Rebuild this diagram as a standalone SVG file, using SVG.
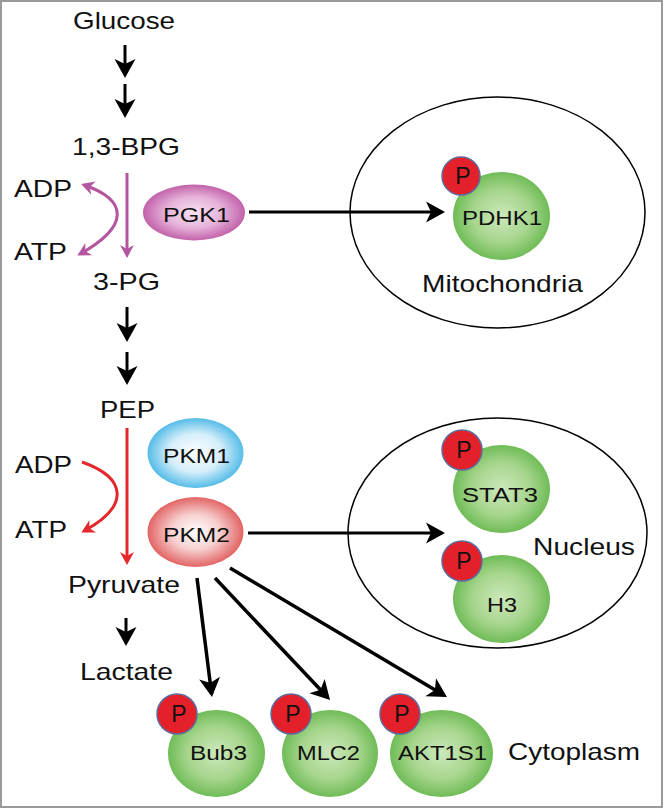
<svg xmlns="http://www.w3.org/2000/svg" width="665" height="811" viewBox="0 0 665 811">
<style>
text{font-family:"Liberation Sans",Arial,sans-serif;fill:#111}
.lb{font-size:24px}
.pr{font-size:20px;text-anchor:middle}
.en{font-size:21px;text-anchor:middle}
.m{text-anchor:middle}
.p{font-size:23px;text-anchor:middle}
.pc{fill:#e4202a;stroke:#5d6b9c;stroke-width:1.5}
.bk{stroke:#000;fill:none}
.comp{fill:none;stroke:#000;stroke-width:1.5}
</style>
<defs>
<radialGradient id="gG" cx="50%" cy="50%" r="50%"><stop offset="0" stop-color="#cde8bb"/><stop offset="0.6" stop-color="#a6d58c"/><stop offset="1" stop-color="#6fbc57"/></radialGradient>
<radialGradient id="gPu" cx="50%" cy="50%" r="50%"><stop offset="0" stop-color="#f6e2f2"/><stop offset="0.55" stop-color="#e6b3da"/><stop offset="1" stop-color="#c262aa"/></radialGradient>
<radialGradient id="gBl" cx="50%" cy="50%" r="50%"><stop offset="0" stop-color="#ffffff"/><stop offset="0.55" stop-color="#d5eefa"/><stop offset="1" stop-color="#55bce8"/></radialGradient>
<radialGradient id="gRd" cx="50%" cy="50%" r="50%"><stop offset="0" stop-color="#ffffff"/><stop offset="0.5" stop-color="#f7d0d0"/><stop offset="1" stop-color="#e26464"/></radialGradient>
<marker id="ab" viewBox="-21 -12 23 24" markerWidth="23" markerHeight="24" refX="-3" refY="0" orient="auto" markerUnits="userSpaceOnUse"><path d="M0,0 L-19,-10.5 L-14,0 L-19,10.5 Z" fill="#000"/></marker>
<marker id="ap" viewBox="-16 -9 18 18" markerWidth="18" markerHeight="18" refX="-3" refY="0" orient="auto-start-reverse" markerUnits="userSpaceOnUse"><path d="M0,0 L-13,-7 L-9,0 L-13,7 Z" fill="#b4559f"/></marker>
<marker id="ar" viewBox="-16 -9 18 18" markerWidth="18" markerHeight="18" refX="-3" refY="0" orient="auto" markerUnits="userSpaceOnUse"><path d="M0,0 L-13,-7 L-9,0 L-13,7 Z" fill="#e3272b"/></marker>
</defs>
<rect x="1" y="1" width="661" height="806" fill="#fff" stroke="#9a9a9a" stroke-width="2"/>

<g id="compartments">
<ellipse cx="497.5" cy="212.5" rx="147.5" ry="115.5" class="comp"/>
<ellipse cx="497.5" cy="533" rx="149.5" ry="115" class="comp"/>
</g>

<g id="connectors">
<path class="bk" stroke-width="3" d="M125,45 L125,75" marker-end="url(#ab)"/>
<path class="bk" stroke-width="3" d="M125,84 L125,115" marker-end="url(#ab)"/>
<path class="bk" stroke-width="3" d="M127,307 L127,339" marker-end="url(#ab)"/>
<path class="bk" stroke-width="3" d="M127,352 L127,382" marker-end="url(#ab)"/>
<path class="bk" stroke-width="3" d="M126,618 L126,643" marker-end="url(#ab)"/>
<path class="bk" stroke-width="3" d="M249,212 L442,212" marker-end="url(#ab)"/>
<path class="bk" stroke-width="3" d="M248,533 L442,533" marker-end="url(#ab)"/>
<path class="bk" stroke-width="3.5" d="M197,578 L211.6,694" marker-end="url(#ab)"/>
<path class="bk" stroke-width="3.5" d="M215,578 L328,697.8" marker-end="url(#ab)"/>
<path class="bk" stroke-width="3.5" d="M230,568 L444.4,695.5" marker-end="url(#ab)"/>
<path d="M127,173 L127,255" stroke="#b4559f" stroke-width="3" fill="none" marker-end="url(#ap)"/>
<path d="M84,185 C128,200 130,226 80,254" stroke="#b4559f" stroke-width="3" fill="none" marker-start="url(#ap)" marker-end="url(#ap)"/>
<path d="M127,428 L127,562" stroke="#e3272b" stroke-width="3" fill="none" marker-end="url(#ar)"/>
<path d="M82,462 C127,478 130,506 84,531" stroke="#e3272b" stroke-width="3" fill="none" marker-end="url(#ar)"/>
</g>

<g id="metabolites">
<text class="lb m" x="124" y="29" textLength="102" lengthAdjust="spacingAndGlyphs">Glucose</text>
<text class="lb m" x="126" y="155" textLength="108" lengthAdjust="spacingAndGlyphs">1,3-BPG</text>
<text class="lb" x="14" y="197" textLength="58" lengthAdjust="spacingAndGlyphs">ADP</text>
<text class="lb" x="14" y="260" textLength="53" lengthAdjust="spacingAndGlyphs">ATP</text>
<text class="lb m" x="126.5" y="290" textLength="67" lengthAdjust="spacingAndGlyphs">3-PG</text>
<text class="lb m" x="127.5" y="418" textLength="55" lengthAdjust="spacingAndGlyphs">PEP</text>
<text class="lb" x="15" y="473" textLength="57" lengthAdjust="spacingAndGlyphs">ADP</text>
<text class="lb" x="15" y="538" textLength="52" lengthAdjust="spacingAndGlyphs">ATP</text>
<text class="lb m" x="124" y="593" textLength="112" lengthAdjust="spacingAndGlyphs">Pyruvate</text>
<text class="lb m" x="126.5" y="680" textLength="93" lengthAdjust="spacingAndGlyphs">Lactate</text>
</g>

<g id="PGK1">
<ellipse cx="194" cy="212.5" rx="51" ry="28" fill="url(#gPu)"/>
<text class="en" x="196.5" y="222" textLength="67" lengthAdjust="spacingAndGlyphs">PGK1</text>
</g>
<g id="PKM1">
<ellipse cx="195.5" cy="453" rx="48" ry="35" fill="url(#gBl)"/>
<text class="en" x="196.5" y="463" textLength="67" lengthAdjust="spacingAndGlyphs">PKM1</text>
</g>
<g id="PKM2">
<ellipse cx="195.5" cy="532" rx="48" ry="35" fill="url(#gRd)"/>
<text class="en" x="196.5" y="542" textLength="67" lengthAdjust="spacingAndGlyphs">PKM2</text>
</g>

<g id="PDHK1">
<ellipse cx="501.5" cy="216" rx="48.5" ry="44" fill="url(#gG)"/>
<text class="pr" x="502" y="225" textLength="80" lengthAdjust="spacingAndGlyphs">PDHK1</text>
<circle cx="461" cy="176" r="19" class="pc"/>
<text class="p" x="463" y="184">P</text>
</g>
<g id="Mitochondria-label">
<text class="lb m" x="502.5" y="292" textLength="161" lengthAdjust="spacingAndGlyphs">Mitochondria</text>
</g>

<g id="STAT3">
<ellipse cx="501.5" cy="489" rx="48.5" ry="44" fill="url(#gG)"/>
<text class="pr" x="500" y="502" textLength="76" lengthAdjust="spacingAndGlyphs">STAT3</text>
<circle cx="462" cy="450" r="20" class="pc"/>
<text class="p" x="464" y="458">P</text>
</g>
<g id="H3">
<ellipse cx="501.5" cy="599" rx="48.5" ry="44" fill="url(#gG)"/>
<text class="pr" x="502" y="612" textLength="30" lengthAdjust="spacingAndGlyphs">H3</text>
<circle cx="462" cy="561" r="20" class="pc"/>
<text class="p" x="464" y="569">P</text>
</g>
<g id="Nucleus-label">
<text class="lb m" x="584" y="555" textLength="102" lengthAdjust="spacingAndGlyphs">Nucleus</text>
</g>

<g id="Bub3">
<ellipse cx="216.5" cy="753.5" rx="48.5" ry="43.5" fill="url(#gG)"/>
<text class="pr" x="218.5" y="760" textLength="57" lengthAdjust="spacingAndGlyphs">Bub3</text>
<circle cx="177" cy="714" r="20" class="pc"/>
<text class="p" x="179" y="722">P</text>
</g>
<g id="MLC2">
<ellipse cx="330" cy="753.5" rx="48" ry="43.5" fill="url(#gG)"/>
<text class="pr" x="328.5" y="760" textLength="63" lengthAdjust="spacingAndGlyphs">MLC2</text>
<circle cx="291" cy="714" r="20" class="pc"/>
<text class="p" x="293" y="722">P</text>
</g>
<g id="AKT1S1">
<ellipse cx="441.5" cy="753.5" rx="51.5" ry="43.5" fill="url(#gG)"/>
<text class="pr" x="442.5" y="760" textLength="89" lengthAdjust="spacingAndGlyphs">AKT1S1</text>
<circle cx="400" cy="714" r="20" class="pc"/>
<text class="p" x="402" y="722">P</text>
</g>
<g id="Cytoplasm-label">
<text class="lb m" x="574" y="760" textLength="132" lengthAdjust="spacingAndGlyphs">Cytoplasm</text>
</g>
</svg>
